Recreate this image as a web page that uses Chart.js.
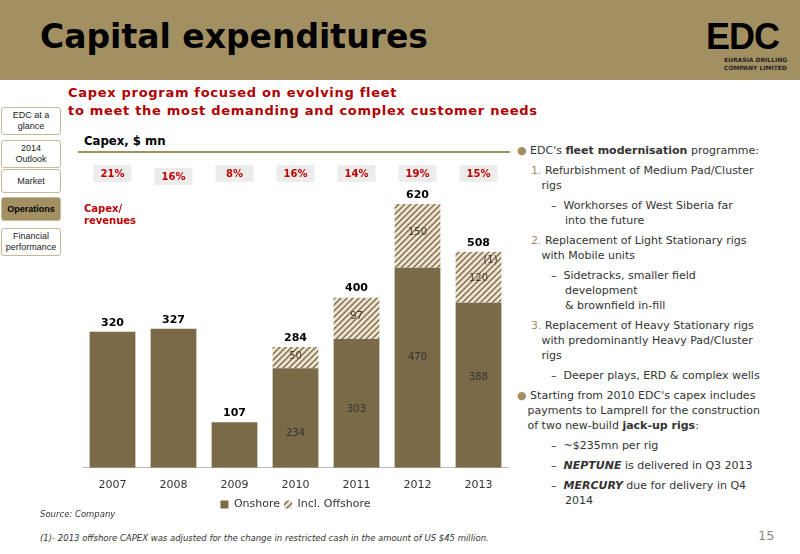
<!DOCTYPE html>
<html><head><meta charset="utf-8">
<script src="https://cdn.jsdelivr.net/npm/chart.js@4/dist/chart.umd.min.js"></script>
<style>
body{margin:0;width:800px;height:554px;position:relative;background:#fff;font-family:"DejaVu Sans",Verdana,sans-serif;overflow:hidden}
#hdr{position:absolute;left:0;top:0;width:800px;height:80px;background:#a39062}
#title{position:absolute;left:40px;top:17px;font:bold 33px "DejaVu Sans",sans-serif;color:#000}
#logo{position:absolute;left:706px;top:16px;font:bold 36px "Liberation Sans",sans-serif;color:#000;letter-spacing:-1px}
#logo2{position:absolute;left:724px;top:56px;font:bold 6px "DejaVu Sans";color:#222;line-height:8px}
#sub{position:absolute;left:68px;top:84px;font:bold 13px "DejaVu Sans";color:#b00000;line-height:18px;letter-spacing:0.7px}
.nav{position:absolute;left:1px;width:58px;border:1px solid #c8b898;border-radius:3px;font:9px "Liberation Sans",Arial;text-align:center;color:#222;display:flex;align-items:center;justify-content:center;line-height:11px}
#ctitle{position:absolute;left:84px;top:133px;font:bold 13px "DejaVu Sans Condensed";color:#000}
#rule{position:absolute;left:78px;top:151px;width:432px;height:2px;background:#a39062}
#chartbox{position:absolute;left:82px;top:155px;width:427px;height:365px}
#right{position:absolute;left:517px;top:143px;width:280px;font:11px "DejaVu Sans";color:#333;line-height:15px}
#right p{margin:0 0 5px 0}
.b{color:#a39062}
.n{color:#a39062}
#src{position:absolute;left:40px;top:509px;font:italic 8.5px "DejaVu Sans";color:#333}
#foot{position:absolute;left:40px;top:533px;font:italic 8.5px "DejaVu Sans";color:#333}
#pg{position:absolute;left:758px;top:528px;font:13px "DejaVu Sans";color:#888}
</style></head><body>
<div id="hdr"></div>
<div id="title">Capital expenditures</div>
<div id="logo">EDC</div>
<div id="logo2">EURASIA DRILLING<br>COMPANY LIMITED</div>
<div id="sub">Capex program focused on evolving fleet<br>to meet the most demanding and complex customer needs</div>
<div class="nav" style="top:107px;height:26px">EDC at a<br>glance</div>
<div class="nav" style="top:140px;height:26px">2014<br>Outlook</div>
<div class="nav" style="top:169px;height:22px">Market</div>
<div class="nav" style="top:197px;height:22px;background:#a39062;font-weight:bold;color:#000">Operations</div>
<div class="nav" style="top:228px;height:26px">Financial<br>performance</div>
<div id="ctitle">Capex, $ mn</div>
<div id="rule"></div>
<div id="chartbox"><canvas id="c"></canvas></div>
<div id="right">
<p><span class="b">●</span> EDC's <b>fleet modernisation</b> programme:</p>
<p style="margin-left:14px"><span class="n">1.</span> Refurbishment of Medium Pad/Cluster<br>&nbsp;&nbsp;&nbsp;rigs</p>
<p style="margin-left:34px">–&nbsp;&nbsp;Workhorses of West Siberia far<br>&nbsp;&nbsp;&nbsp;&nbsp;into the future</p>
<p style="margin-left:14px"><span class="n">2.</span> Replacement of Light Stationary rigs<br>&nbsp;&nbsp;&nbsp;with Mobile units</p>
<p style="margin-left:34px">–&nbsp;&nbsp;Sidetracks, smaller field<br>&nbsp;&nbsp;&nbsp;&nbsp;development<br>&nbsp;&nbsp;&nbsp;&nbsp;&amp; brownfield in-fill</p>
<p style="margin-left:14px"><span class="n">3.</span> Replacement of Heavy Stationary rigs<br>&nbsp;&nbsp;&nbsp;with predominantly Heavy Pad/Cluster<br>&nbsp;&nbsp;&nbsp;rigs</p>
<p style="margin-left:34px">–&nbsp;&nbsp;Deeper plays, ERD &amp; complex wells</p>
<p><span class="b">●</span> Starting from 2010 EDC's capex includes<br>&nbsp;&nbsp;&nbsp;payments to Lamprell for the construction<br>&nbsp;&nbsp;&nbsp;of two new-build <b>jack-up rigs</b>:</p>
<p style="margin-left:34px">–&nbsp;&nbsp;~$235mn per rig</p>
<p style="margin-left:34px">–&nbsp;&nbsp;<b><i>NEPTUNE</i></b> is delivered in Q3 2013</p>
<p style="margin-left:34px">–&nbsp;&nbsp;<b><i>MERCURY</i></b> due for delivery in Q4<br>&nbsp;&nbsp;&nbsp;&nbsp;2014</p>
</div>
<div id="src">Source: Company</div>
<div id="foot">(1)- 2013 offshore CAPEX was adjusted for the change in restricted cash in the amount of US $45 million.</div>
<div id="pg">15</div>
<script>
const years=["2007","2008","2009","2010","2011","2012","2013"];
const onshore=[320,327,107,234,303,470,388];
const offshore=[0,0,0,50,97,150,120];
const totals=[320,327,107,284,400,620,508];
const ratios=["21%","16%","8%","16%","14%","19%","15%"];

function hatch(){const p=document.createElement('canvas');p.width=6;p.height=6;const g=p.getContext('2d');
g.fillStyle='#ece4d2';g.fillRect(0,0,6,6);g.strokeStyle='#7a6a48';g.lineWidth=1.4;
g.beginPath();g.moveTo(0,6);g.lineTo(6,0);g.moveTo(-3,3);g.lineTo(3,-3);g.moveTo(3,9);g.lineTo(9,3);g.stroke();
return g.createPattern(p,'repeat');}
const pat=hatch();

const deco={id:'deco',afterDatasetsDraw(ch){const c=ch.ctx,x=ch.scales.x,y=ch.scales.y;
c.save();c.textAlign='center';c.textBaseline='middle';
years.forEach((yr,i)=>{const cx=x.getPixelForValue(i);
 const by=i==1?21:18;c.fillStyle='#ececec';c.fillRect(cx-19,by-8,38,17);
 c.fillStyle='#c00000';c.font='bold 10px "DejaVu Sans"';c.fillText(ratios[i],cx,by+1);
 c.fillStyle='#000';c.font='bold 11px "DejaVu Sans"';c.fillText(totals[i],cx,y.getPixelForValue(totals[i])-9);
 if(offshore[i]>0){c.fillStyle='#333';c.font='10px "DejaVu Sans"';
  c.fillText(onshore[i],cx,y.getPixelForValue(onshore[i]*(i==3?0.35:i==4?0.45:0.55)));
  c.fillStyle='#4a3f2a';c.fillText(offshore[i],cx,y.getPixelForValue(onshore[i]+offshore[i]*(i==6?0.47:0.55)));}
});
const cx6=x.getPixelForValue(6);c.fillStyle='#4a3f2a';c.fillText('(1)',cx6+12,y.getPixelForValue(488));
c.textAlign='left';c.fillStyle='#c00000';c.font='bold 10px "DejaVu Sans"';
c.fillText('Capex/',x.left+2,54);c.fillText('revenues',x.left+2,66);
c.restore();}};

new Chart(document.getElementById('c'),{type:'bar',
data:{labels:years,datasets:[
{label:'Onshore',data:onshore,backgroundColor:'#7a6a48',borderWidth:0},
{label:'Incl. Offshore',data:offshore,backgroundColor:pat,borderWidth:0}]},
options:{responsive:true,maintainAspectRatio:false,animation:false,
layout:{padding:{top:15,left:0,right:0}},
datasets:{bar:{barPercentage:0.75,categoryPercentage:1}},
scales:{x:{stacked:true,grid:{display:false},border:{color:'#bbb'},ticks:{color:'#333',font:{size:11,family:'DejaVu Sans'}}},
y:{stacked:true,display:false,min:0,max:700}},
plugins:{tooltip:{enabled:false},legend:{position:'bottom',labels:{boxWidth:8,boxHeight:8,color:'#333',font:{size:11,family:'DejaVu Sans'},padding:4}}}},
plugins:[deco]});
</script>
</body></html>
